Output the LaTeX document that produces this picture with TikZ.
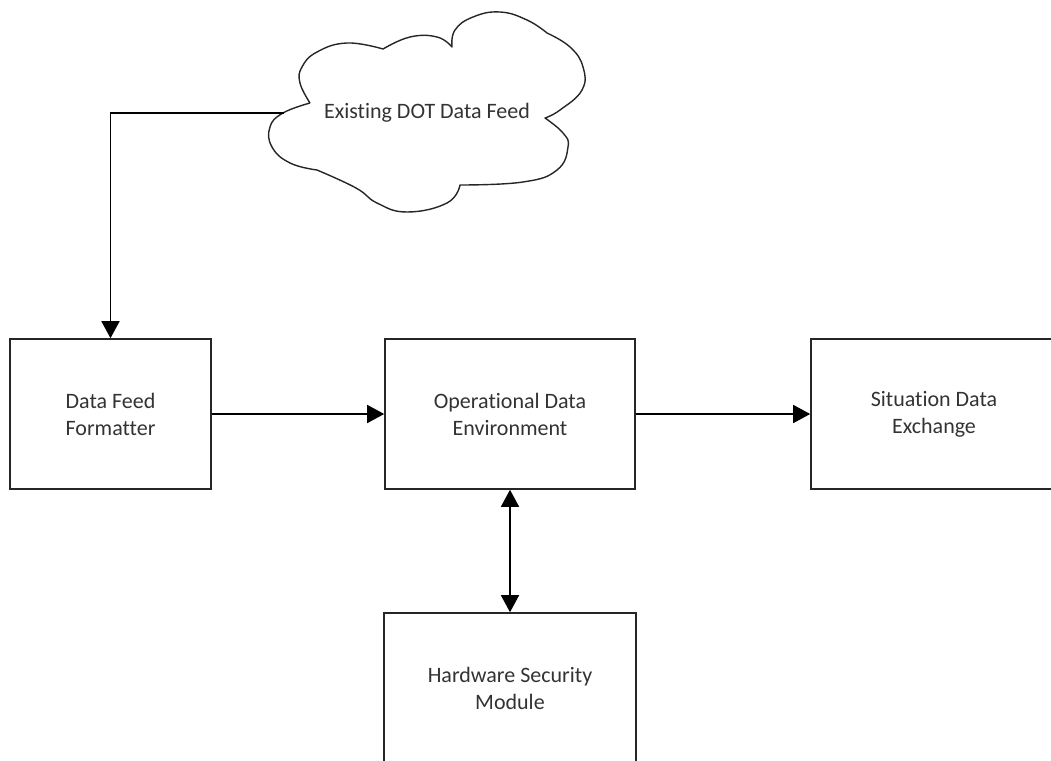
\documentclass[tikz,border=0pt]{standalone}
\usepackage{fontspec}
\setmainfont[Ligatures=NoCommon]{Carlito}
\usetikzlibrary{arrows.meta}
\begin{document}
\begin{tikzpicture}[x=1pt,y=-1pt,line width=1.6pt,
  box/.style={draw=black!85, rectangle, inner sep=0pt, minimum height=150pt, align=center, text=black!80, font=\fontsize{22}{27}\selectfont},
  lbl/.style={inner sep=0pt, text=black!80, font=\fontsize{22}{27}\selectfont},
  arr/.style={draw=black, -{Triangle[length=17pt,width=18pt]}},
  darr/.style={draw=black, {Triangle[length=17pt,width=18pt]}-{Triangle[length=17pt,width=18pt]}},
  cloudline/.style={draw=black!85, line width=1.4pt, line join=round}]
\useasboundingbox (0,0) rectangle (1051,760);
\clip (0,0) rectangle (1051,760);

\node[box, minimum width=201pt] (dff) at (110.5,414) {Data Feed\\Formatter};
\node[box, minimum width=250pt] (ode) at (510,414) {Operational Data\\Environment};
\node[box, minimum width=246pt] (sdx) at (934,414) {Situation Data\\Exchange};
\node[box, minimum width=252pt] (hsm) at (510,688) {Hardware Security\\Module};

% cloud
\draw[cloudline]
  plot[smooth,tension=0.75] coordinates {(310,103) (300,83) (302,67) (317,52) (347,43) (383,49)}
  -- plot[smooth,tension=0.75] coordinates {(383,49) (410,37) (437,37) (452,47)}
  -- plot[smooth,tension=0.75] coordinates {(452,47) (455,30) (473,17) (500,12) (527,20) (547,33)}
  -- plot[smooth,tension=0.75] coordinates {(547,33) (570,47) (583,67) (582,90) (560,110) (545,118)}
  -- plot[smooth,tension=0.75] coordinates {(545,118) (563,133) (568,147) (557,170) (523,182) (460,185)}
  -- plot[smooth,tension=0.75] coordinates {(460,185) (447,203) (407,212) (377,203) (356,188) (317,170)}
  -- plot[smooth,tension=0.75] coordinates {(317,170) (290,163) (272,147) (270,127) (283,113) (310,103)};
\node[lbl] (cloud) at (427,113) {Existing DOT Data Feed};
\coordinate (cloudL) at (284,113);

\draw[arr] (cloudL) -| (dff.north);
\draw[arr] (dff.east) -- (ode.west);
\draw[arr] (ode.east) -- (sdx.west);
\draw[darr] (ode.south) -- (hsm.north);
\end{tikzpicture}
\end{document}
